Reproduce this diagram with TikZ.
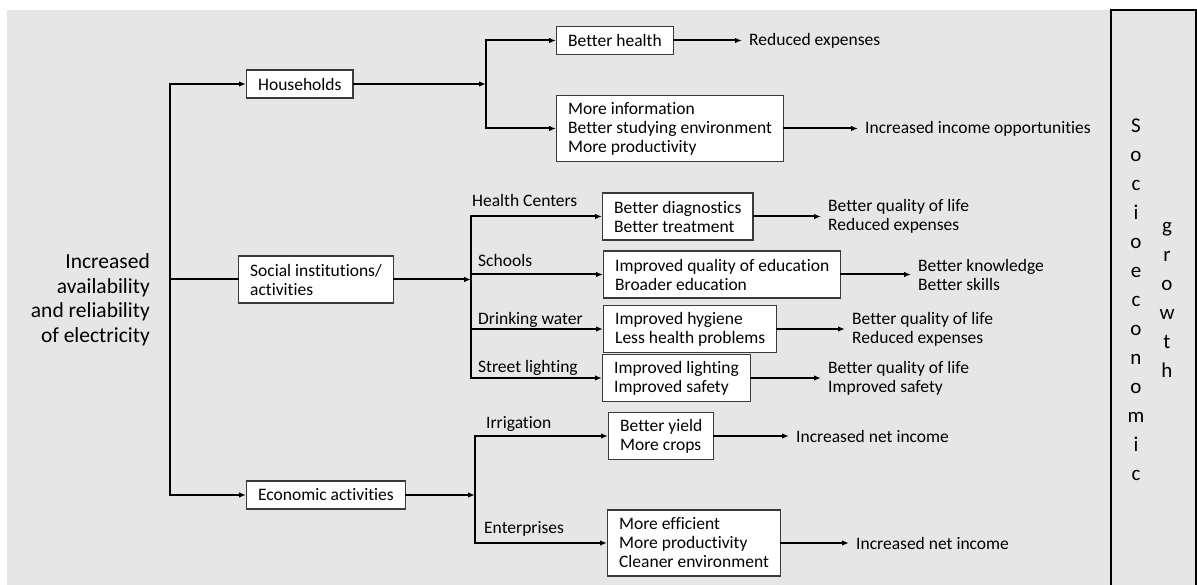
\documentclass[tikz,border=0pt]{standalone}
\usepackage{fontspec}
\setmainfont{Carlito}[Ligatures={NoCommon}]
\usetikzlibrary{arrows.meta}
\definecolor{panelgray}{HTML}{E6E6E6}
\definecolor{boxedge}{HTML}{3A3A3A}

\begin{document}
\begin{tikzpicture}[
        x=1pt, y=-1pt,
        box/.style={draw=boxedge, line width=1.3pt, fill=white, anchor=west, align=left,
          inner xsep=11.5pt, inner ysep=4pt, minimum height=28pt,
          font=\fontsize{17.5}{19}\selectfont},
        twoline/.style={minimum height=47pt},
        threeline/.style={minimum height=66pt},
        outtext/.style={anchor=west, align=left, inner sep=0pt, font=\fontsize{17.5}{19}\selectfont},
        branch/.style={anchor=base west, inner sep=0pt, font=\fontsize{17.5}{19}\selectfont},
        bigtext/.style={anchor=east, align=right, inner sep=0pt, font=\fontsize{21.5}{24.5}\selectfont},
        vertword/.style={anchor=north, align=center, inner sep=0pt, font=\fontsize{21}{29}\selectfont},
        link/.style={line width=2pt, line cap=rect},
        arrow/.style={link, -{Latex[length=7pt,width=5.5pt]}},
        outarrow/.style={arrow, shorten >=7pt}
      ]

% Background
        \useasboundingbox (0,0) rectangle (1197,585);
        \fill[panelgray] (7,10) rectangle (1197,585);

% Source
        \node[bigtext] (src) at (150,300) {Increased\\availability\\and reliability\\of electricity};

% Sectors
        \node[box] (hh) at (246,84) {Households};
        \node[box, twoline] (soc) at (238,279.5) {Social institutions/\\activities};
        \node[box] (econ) at (246,495) {Economic activities};

% Effects
        \node[box] (bh) at (556,40.5) {Better health};
        \node[box, threeline] (mi) at (556,128.5) {More information\\Better studying environment\\More productivity};
        \node[box, twoline] (hc) at (602,216.5) {Better diagnostics\\Better treatment};
        \node[box, twoline] (sch) at (603,274.5) {Improved quality of education\\Broader education};
        \node[box, twoline] (dw) at (603,329) {Improved hygiene\\Less health problems};
        \node[box, twoline] (sl) at (602,378) {Improved lighting\\Improved safety};
        \node[box, twoline] (irr) at (608,436) {Better yield\\More crops};
        \node[box, threeline] (ent) at (607,543) {More efficient\\More productivity\\Cleaner environment};

% Outcomes
        \node[outtext] (o1) at (749,40.5) {Reduced expenses};
        \node[outtext] (o2) at (865,128.5) {Increased income opportunities};
        \node[outtext] (o3) at (828,216.5) {Better quality of life\\Reduced expenses};
        \node[outtext] (o4) at (918,274.5) {Better knowledge\\Better skills};
        \node[outtext] (o5) at (852,329) {Better quality of life\\Reduced expenses};
        \node[outtext] (o6) at (828,378) {Better quality of life\\Improved safety};
        \node[outtext] (o7) at (796,436) {Increased net income};
        \node[outtext] (o8) at (856,543) {Increased net income};

% Branch labels
        \node[branch] (lhc) at (472,207) {Health Centers};
        \node[branch] (lsch) at (478,267) {Schools};
        \node[branch] (ldw) at (478,325) {Drinking water};
        \node[branch] (lsl) at (478,372) {Street lighting};
        \node[branch] (lirr) at (486,428) {Irrigation};
        \node[branch] (lent) at (484,533) {Enterprises};

% Bus lines
        \coordinate (trunk) at (170,0);
        \coordinate (hubA) at (486,0);
        \coordinate (hubB) at (471,0);
        \coordinate (hubC) at (475,0);

% Trunk
        \draw[arrow] (econ.west -| trunk) |- (hh.west);
        \draw[arrow] (hh.west -| trunk) |- (econ.west);
        \draw[link] (soc.west -| trunk) -- (soc.west);

% Households
        \draw[arrow] (hh.east) -- (hh.east -| hubA);
        \draw[arrow] (mi.west -| hubA) |- (bh.west);
        \draw[arrow] (bh.west -| hubA) |- (mi.west);

% Social institutions
        \draw[arrow] (soc.east) -- (soc.east -| hubB);
        \draw[arrow] (sl.west -| hubB) |- (hc.west);
        \draw[arrow] (hc.west -| hubB) |- (sl.west);
        \draw[arrow] (sch.west -| hubB) -- (sch.west);
        \draw[arrow] (dw.west -| hubB) -- (dw.west);

% Economic activities
        \draw[arrow] (econ.east) -- (econ.east -| hubC);
        \draw[arrow] (ent.west -| hubC) |- (irr.west);
        \draw[arrow] (irr.west -| hubC) |- (ent.west);

% Effects to outcomes
        \draw[outarrow] (bh.east) -- (o1.west);
        \draw[outarrow] (mi.east) -- (o2.west);
        \draw[outarrow] (hc.east) -- (o3.west);
        \draw[outarrow] (sch.east) -- (o4.west);
        \draw[outarrow] (dw.east) -- (o5.west);
        \draw[outarrow] (sl.east) -- (o6.west);
        \draw[outarrow] (irr.east) -- (o7.west);
        \draw[outarrow] (ent.east) -- (o8.west);

% Growth panel
        \draw[black, line width=1.5pt] (1111,585) -- (1111,10) -- (1196,10) -- (1196,585);
        \node[vertword] (socio) at (1136,119) {S\\o\\c\\i\\o\\e\\c\\o\\n\\o\\m\\i\\c};
        \node[vertword] (growth) at (1167,222) {g\\r\\o\\w\\t\\h};

      \end{tikzpicture}
\end{document}
